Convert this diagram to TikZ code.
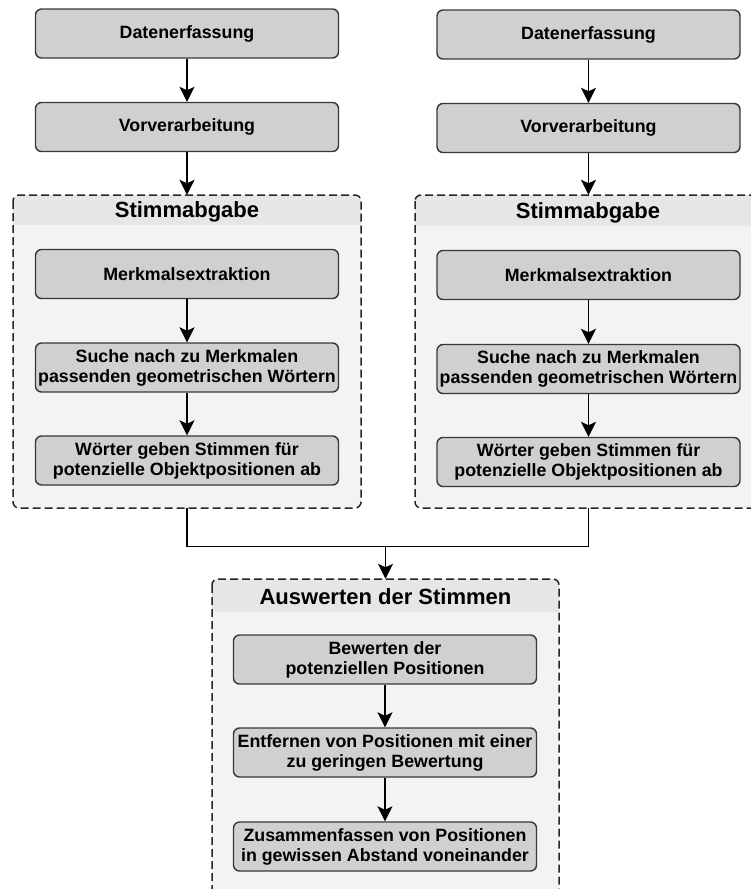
\documentclass[tikz,border=0pt]{standalone}
\usepackage{fontspec}
\setmainfont{Liberation Sans}
\usetikzlibrary{arrows.meta}
\definecolor{boxfill}{HTML}{D0D0D0}
\definecolor{boxline}{HTML}{383838}
\definecolor{contfill}{HTML}{F3F3F3}
\definecolor{headfill}{HTML}{E6E6E6}
\definecolor{contline}{HTML}{262626}
\tikzset{
  stepbox/.style={draw=boxline, fill=boxfill, line width=1.4pt, rounded corners=6pt,
    minimum width=303pt, minimum height=49pt, inner sep=0pt, align=center,
    font=\fontsize{17.8}{20}\selectfont\bfseries},
  container/.style={draw=none, fill=contfill, rounded corners=6pt, inner sep=0pt},
  contborder/.style={draw=contline, line width=1.5pt, dash pattern=on 8pt off 4pt, rounded corners=6pt},
  titletext/.style={font=\fontsize{22}{24}\selectfont\bfseries, inner sep=0pt},
  flow/.style={draw=black, line width=1.4pt, -{Stealth[length=15pt,width=15pt,inset=3.5pt]}},
  plain/.style={draw=black, line width=1.4pt}
}
\begin{document}
\begin{tikzpicture}[x=1pt,y=-1pt]
\useasboundingbox (0,0) rectangle (751,889);
\fill[white] (0,0) rectangle (751,889);
\clip (0,0) rectangle (751,889);

% containers
\node[container, minimum width=348pt, minimum height=313pt] (Lc) at (187,351.5) {};
\node[container, minimum width=345pt, minimum height=313pt] (Rc) at (587.5,351.5) {};
\node[container, minimum width=347pt, minimum height=321pt] (Bc) at (385.5,739.5) {};

% header bands
\fill[headfill] (13,225) {[rounded corners=6pt] -- (13,195) -- (361,195)} -- (361,225) -- cycle;
\fill[headfill] (415,226) {[rounded corners=6pt] -- (415,195) -- (760,195)} -- (760,226) -- cycle;
\fill[headfill] (212,612) {[rounded corners=6pt] -- (212,579) -- (559,579)} -- (559,612) -- cycle;

% dashed borders
\draw[contborder] (13,195) rectangle (361,508);
\draw[contborder] (415,195) rectangle (760,508);
\draw[contborder] (212,579) rectangle (559,900);

% titles
\node[titletext] (Lt) at (187,212) {Stimmabgabe};
\node[titletext] (Rt) at (588,213) {Stimmabgabe};
\node[titletext] (Bt) at (385.5,597) {Auswerten der Stimmen};

% left column
\node[stepbox] (L1) at (187,33.5) {Datenerfassung};
\node[stepbox] (L2) at (187,127) {Vorverarbeitung};
\node[stepbox] (L3) at (187,274) {Merkmalsextraktion};
\node[stepbox] (L4) at (187,367.5) {Suche nach zu Merkmalen\\passenden geometrischen Wörtern};
\node[stepbox] (L5) at (187,460.5) {Wörter geben Stimmen für\\potenzielle Objektpositionen ab};

% right column
\node[stepbox] (R1) at (588.5,34.5) {Datenerfassung};
\node[stepbox] (R2) at (588.5,128) {Vorverarbeitung};
\node[stepbox] (R3) at (588.5,275) {Merkmalsextraktion};
\node[stepbox] (R4) at (588.5,369) {Suche nach zu Merkmalen\\passenden geometrischen Wörtern};
\node[stepbox] (R5) at (588.5,462) {Wörter geben Stimmen für\\potenzielle Objektpositionen ab};

% bottom column
\node[stepbox] (B1) at (385,659.5) {Bewerten der\\potenziellen Positionen};
\node[stepbox] (B2) at (385,752.5) {Entfernen von Positionen mit einer\\zu geringen Bewertung};
\node[stepbox] (B3) at (385,846.5) {Zusammenfassen von Positionen\\in gewissen Abstand voneinander};

% arrows
\draw[flow] (L1.south) -- (L2.north);
\draw[flow] (L2.south) -- (L2.south |- Lc.north);
\draw[flow] (L3.south) -- (L4.north);
\draw[flow] (L4.south) -- (L5.north);

\draw[flow] (R1.south) -- (R2.north);
\draw[flow] (R2.south) -- (R2.south |- Rc.north);
\draw[flow] (R3.south) -- (R4.north);
\draw[flow] (R4.south) -- (R5.north);

\draw[flow] (B1.south) -- (B2.north);
\draw[flow] (B2.south) -- (B3.north);

\coordinate (j) at (385.5,546.5);
\draw[plain] (L2.south |- Lc.south) |- (j) -| (R2.south |- Rc.south);
\draw[flow] (j) -- (Bc.north);
\end{tikzpicture}
\end{document}
